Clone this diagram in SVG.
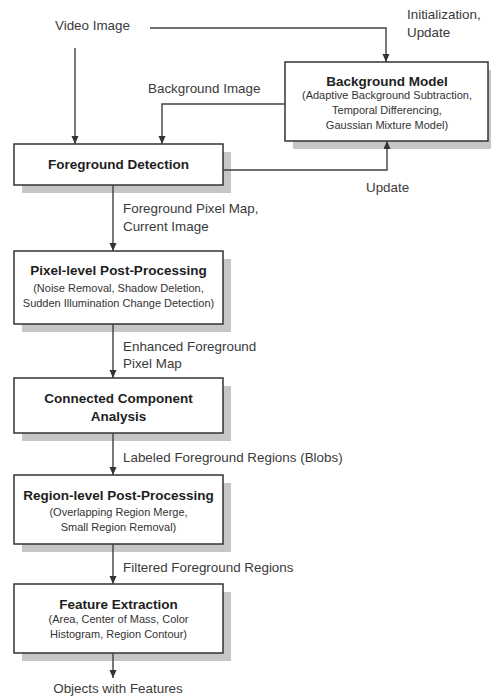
<svg xmlns="http://www.w3.org/2000/svg" width="491" height="698" viewBox="0 0 491 698">
  <style>
    .box { fill: #ffffff; stroke: #333333; stroke-width: 1.5; }
    .shadow { fill: #c6c6c6; stroke: none; }
    .title { font-family: "Liberation Sans", Arial, sans-serif; font-size: 13.5px; font-weight: bold; fill: #1e1e1e; text-anchor: middle; }
    .sub { font-family: "Liberation Sans", Arial, sans-serif; font-size: 11px; fill: #333333; text-anchor: middle; }
    .lbl { font-family: "Liberation Sans", Arial, sans-serif; font-size: 13.4px; fill: #3a3a3a; }
    .conn { fill: none; stroke: #404040; stroke-width: 1.4; marker-end: url(#arrow); }
  </style>
  <defs>
    <marker id="arrow" markerUnits="userSpaceOnUse" markerWidth="8" markerHeight="8" refX="8" refY="3.5" orient="auto">
      <path d="M0,0 L8,3.5 L0,7 z" fill="#333333"/>
    </marker>
  </defs>
  <rect width="491" height="698" fill="#ffffff"/>

  <g id="background-model">
    <rect class="shadow" x="293" y="70" width="203" height="79"/>
    <rect class="box" x="285" y="62" width="203" height="79"/>
    <text class="title" x="387" y="86">Background Model</text>
    <text class="sub" x="387" y="99">(Adaptive Background Subtraction,</text>
    <text class="sub" x="387" y="114">Temporal Differencing,</text>
    <text class="sub" x="387" y="129">Gaussian Mixture Model)</text>
  </g>

  <g id="foreground-detection">
    <rect class="shadow" x="22" y="152" width="209" height="41"/>
    <rect class="box" x="14" y="144" width="209" height="41"/>
    <text class="title" x="118.5" y="169">Foreground Detection</text>
  </g>

  <g id="pixel-level">
    <rect class="shadow" x="22" y="259" width="209" height="73"/>
    <rect class="box" x="14" y="251" width="209" height="73"/>
    <text class="title" x="118.5" y="275">Pixel-level Post-Processing</text>
    <text class="sub" x="118.5" y="292">(Noise Removal, Shadow Deletion,</text>
    <text class="sub" x="118.5" y="307">Sudden Illumination Change Detection)</text>
  </g>

  <g id="connected-component">
    <rect class="shadow" x="22" y="386" width="209" height="55"/>
    <rect class="box" x="14" y="378" width="209" height="55"/>
    <text class="title" x="118.5" y="403">Connected Component</text>
    <text class="title" x="118.5" y="421">Analysis</text>
  </g>

  <g id="region-level">
    <rect class="shadow" x="22" y="483" width="209" height="69"/>
    <rect class="box" x="14" y="475" width="209" height="69"/>
    <text class="title" x="118.5" y="500">Region-level Post-Processing</text>
    <text class="sub" x="118.5" y="516">(Overlapping Region Merge,</text>
    <text class="sub" x="118.5" y="531">Small Region Removal)</text>
  </g>

  <g id="feature-extraction">
    <rect class="shadow" x="22" y="592" width="209" height="69"/>
    <rect class="box" x="14" y="584" width="209" height="69"/>
    <text class="title" x="118.5" y="609">Feature Extraction</text>
    <text class="sub" x="118.5" y="623">(Area, Center of Mass, Color</text>
    <text class="sub" x="118.5" y="638">Histogram, Region Contour)</text>
  </g>

  <g id="connectors">
    <path class="conn" d="M75,48 L75,144"/>
    <path class="conn" d="M150,28 L386,28 L386,62"/>
    <path class="conn" d="M285,104 L162,104 L162,144"/>
    <path class="conn" d="M223,170 L387,170 L387,141"/>
    <path class="conn" d="M113,185 L113,251"/>
    <path class="conn" d="M113,324 L113,378"/>
    <path class="conn" d="M113,433 L113,475"/>
    <path class="conn" d="M113,544 L113,584"/>
    <path class="conn" d="M113,653 L113,678"/>
  </g>

  <g id="labels">
    <text class="lbl" x="55" y="30">Video Image</text>
    <text class="lbl" x="407" y="19">Initialization,</text>
    <text class="lbl" x="407" y="37">Update</text>
    <text class="lbl" x="148" y="93">Background Image</text>
    <text class="lbl" x="366" y="192">Update</text>
    <text class="lbl" x="123" y="213">Foreground Pixel Map,</text>
    <text class="lbl" x="123" y="231">Current Image</text>
    <text class="lbl" x="123" y="351">Enhanced Foreground</text>
    <text class="lbl" x="123" y="368">Pixel Map</text>
    <text class="lbl" x="123" y="462">Labeled Foreground Regions (Blobs)</text>
    <text class="lbl" x="123" y="572">Filtered Foreground Regions</text>
    <text class="lbl" x="118" y="693" text-anchor="middle">Objects with Features</text>
  </g>
</svg>
